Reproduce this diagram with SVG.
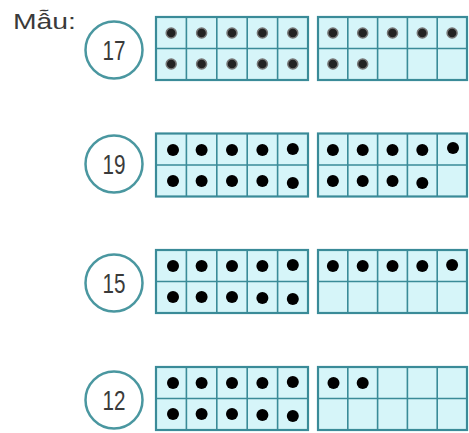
<svg xmlns="http://www.w3.org/2000/svg" width="469" height="433" viewBox="0 0 469 433">
<defs>
<style>
.frame{fill:#d6f5f9;stroke:#3a8b98;stroke-width:2.2}
.grid{stroke:#3a8b98;stroke-width:1.6;fill:none}
.num{fill:none;stroke:#4a97a0;stroke-width:2.5}
.numt{font-family:"Liberation Sans",Arial,sans-serif;font-size:28px;fill:#3a3a3a;text-anchor:middle}
.d{fill:#000}
.ds{fill:#222;stroke:#777;stroke-width:1.5}
.lbl{font-family:"Liberation Sans",Arial,sans-serif;font-size:22px;fill:#3a3a3a}
</style>
<g id="tf">
<rect class="frame" x="0" y="0" width="152" height="63"/>
<path class="grid" d="M0 31.5H152M30.4 0V63M60.8 0V63M91.2 0V63M121.6 0V63"/>
</g>
<g id="tf2">
<rect class="frame" x="0" y="0" width="149" height="63"/>
<path class="grid" d="M0 31.5H149M29.8 0V63M59.6 0V63M89.4 0V63M119.2 0V63"/>
</g>
</defs>
<rect width="469" height="433" fill="#fff"/>
<text class="lbl" x="13" y="29" textLength="63" lengthAdjust="spacingAndGlyphs">Mẫu:</text>

<g id="row17">
<circle class="num" cx="114" cy="50" r="28.5"/>
<text class="numt" x="114" y="60" textLength="23" lengthAdjust="spacingAndGlyphs">17</text>
<use href="#tf" x="156" y="17"/>
<use href="#tf2" x="318" y="17"/>
<g class="ds">
<circle cx="171.2" cy="33" r="5"/><circle cx="201.6" cy="33" r="5"/><circle cx="232" cy="33" r="5"/><circle cx="262.4" cy="33" r="5"/><circle cx="292.8" cy="33" r="5"/>
<circle cx="171.2" cy="64" r="5"/><circle cx="201.6" cy="64" r="5"/><circle cx="232" cy="64" r="5"/><circle cx="262.4" cy="64" r="5"/><circle cx="292.8" cy="64" r="5"/>
<circle cx="332.9" cy="33" r="5"/><circle cx="362.7" cy="33" r="5"/><circle cx="392.5" cy="33" r="5"/><circle cx="422.3" cy="33" r="5"/><circle cx="452.1" cy="33" r="5"/>
<circle cx="332.9" cy="64" r="5"/><circle cx="362.7" cy="64" r="5"/>
</g>
</g>

<g id="row19">
<circle class="num" cx="114" cy="164" r="28.5"/>
<text class="numt" x="114" y="174" textLength="23" lengthAdjust="spacingAndGlyphs">19</text>
<use href="#tf" x="156" y="133.5"/>
<use href="#tf2" x="318" y="133.5"/>
<g class="d">
<circle cx="173" cy="150" r="6"/><circle cx="201.6" cy="150" r="6"/><circle cx="232" cy="150" r="6"/><circle cx="262.4" cy="150" r="6"/><circle cx="292.8" cy="149" r="6"/>
<circle cx="173" cy="181" r="6"/><circle cx="201.6" cy="181" r="6"/><circle cx="232" cy="181" r="6"/><circle cx="262.4" cy="181" r="6"/><circle cx="292.8" cy="183" r="6"/>
<circle cx="332.9" cy="150" r="6"/><circle cx="362.7" cy="150" r="6"/><circle cx="392.5" cy="150" r="6"/><circle cx="422.3" cy="150" r="6"/><circle cx="453" cy="148" r="6"/>
<circle cx="332.9" cy="181" r="6"/><circle cx="362.7" cy="181" r="6"/><circle cx="392.5" cy="181" r="6"/><circle cx="422.3" cy="183" r="6"/>
</g>
</g>

<g id="row15">
<circle class="num" cx="114" cy="283" r="28.5"/>
<text class="numt" x="114" y="293" textLength="23" lengthAdjust="spacingAndGlyphs">15</text>
<use href="#tf" x="156" y="250"/>
<use href="#tf2" x="318" y="250"/>
<g class="d">
<circle cx="173" cy="266" r="6"/><circle cx="201.6" cy="266" r="6"/><circle cx="232" cy="266" r="6"/><circle cx="262.4" cy="266" r="6"/><circle cx="292.8" cy="265" r="6"/>
<circle cx="173" cy="297" r="6"/><circle cx="201.6" cy="297" r="6"/><circle cx="232" cy="297" r="6"/><circle cx="262.4" cy="298" r="6"/><circle cx="292.8" cy="299" r="6"/>
<circle cx="332.9" cy="266" r="6"/><circle cx="362.7" cy="266" r="6"/><circle cx="392.5" cy="266" r="6"/><circle cx="422.3" cy="266" r="6"/><circle cx="452.1" cy="265" r="6"/>
</g>
</g>

<g id="row12">
<circle class="num" cx="114" cy="400" r="28.5"/>
<text class="numt" x="114" y="410" textLength="23" lengthAdjust="spacingAndGlyphs">12</text>
<use href="#tf" x="156" y="367"/>
<use href="#tf2" x="318" y="367"/>
<g class="d">
<circle cx="173" cy="383" r="6"/><circle cx="201.6" cy="383" r="6"/><circle cx="232" cy="383" r="6"/><circle cx="262.4" cy="383" r="6"/><circle cx="292.8" cy="382" r="6"/>
<circle cx="173" cy="414" r="6"/><circle cx="201.6" cy="414" r="6"/><circle cx="232" cy="414" r="6"/><circle cx="262.4" cy="415" r="6"/><circle cx="292.8" cy="416" r="6"/>
<circle cx="333.5" cy="383" r="6"/><circle cx="362.7" cy="383" r="6"/>
</g>
</g>
</svg>
